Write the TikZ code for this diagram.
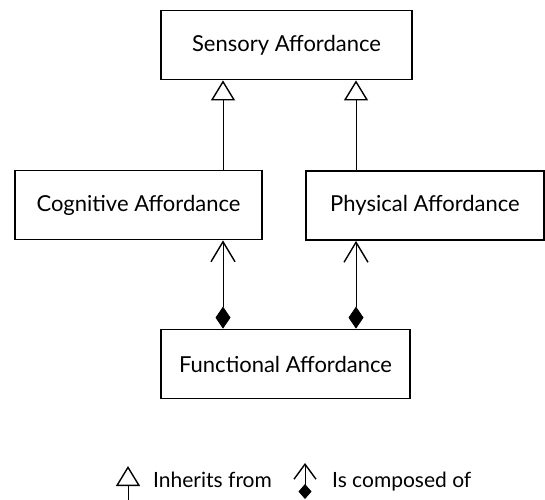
\documentclass[tikz,border=0pt]{standalone}
\usepackage{fontspec}
\setmainfont{Lato}
\usetikzlibrary{arrows.meta}

\tikzset{
  cls/.style={draw, line width=1.8pt, minimum height=69pt,
    inner sep=0pt, font=\fontsize{22}{26}\selectfont},
  inherit/.style={line width=0.8pt, -{Triangle[open, width=24pt, length=20pt, line width=1.4pt]}},
  compose/.style={line width=0.8pt,
    {Diamond[width=15pt, length=22pt]}-{Straight Barb[width=24pt, length=20pt, line width=1.4pt]}},
  keycmp/.style={line width=0.8pt,
    {Diamond[width=13pt, length=15pt]}-{Straight Barb[width=22pt, length=15pt, line width=1.4pt]}},
  keytxt/.style={anchor=base west, inner sep=0pt, font=\fontsize{21}{25}\selectfont}
}

\begin{document}
\begin{tikzpicture}[x=1pt, y=-1pt]
  \useasboundingbox (0,0) rectangle (545,499);

  % classes
  \node[cls, minimum width=251pt] (sens) at (286.5,45) {Sensory Affordance};
  \node[cls, minimum width=247pt] (cog) at (138.5,205) {Cognitive Affordance};
  \node[cls, minimum width=238pt] (phys) at (425,205.5) {Physical Affordance};
  \node[cls, minimum width=249pt] (func) at (285.5,364) {Functional Affordance};

  % where the connectors run
  \coordinate (lx) at (223,0);
  \coordinate (rx) at (356,0);

  \draw[inherit] (cog.north -| lx) -- (sens.south -| lx);
  \draw[inherit] (phys.north -| rx) -- (sens.south -| rx);
  \draw[compose] (func.north -| lx) -- (cog.south -| lx);
  \draw[compose] (func.north -| rx) -- (phys.south -| rx);

  % key
  \coordinate (k1a) at (128,500);
  \coordinate (k1b) at (128,466);
  \coordinate (k2a) at (305,499);
  \coordinate (k2b) at (305,463);
  \draw[inherit] (k1a) -- (k1b);
  \draw[keycmp] (k2a) -- (k2b);
  \node[keytxt] (kt1) at (153,487) {Inherits from};
  \node[keytxt] (kt2) at (332,487) {Is composed of};
\end{tikzpicture}
\end{document}
